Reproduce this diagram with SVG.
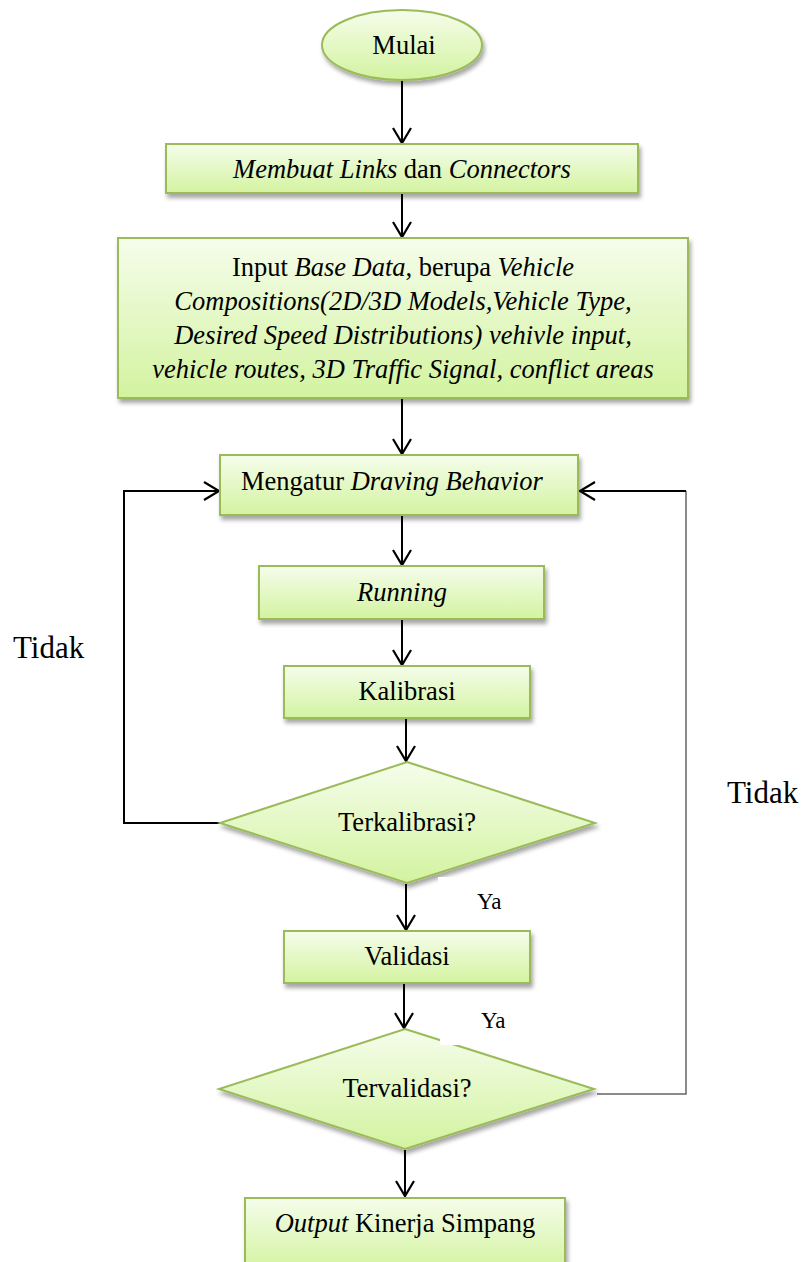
<svg xmlns="http://www.w3.org/2000/svg" width="808" height="1262" viewBox="0 0 808 1262">
<defs>
<linearGradient id="g" x1="0" y1="0" x2="0" y2="1">
<stop offset="0" stop-color="#f5fdeb"/>
<stop offset="1" stop-color="#d3f3a0"/>
</linearGradient>
<filter id="sh" x="-10%" y="-20%" width="125%" height="150%">
<feDropShadow dx="2" dy="4" stdDeviation="2" flood-color="#000" flood-opacity="0.35"/>
</filter>
<marker id="arr" markerUnits="userSpaceOnUse" markerWidth="24" markerHeight="24" refX="16" refY="10" orient="auto" viewBox="0 0 24 24">
<path d="M1,1 L16,10 L1,19" fill="none" stroke="#000" stroke-width="2.2"/>
</marker>
</defs>
<style>
.n{fill:url(#g);stroke:#9bbb59;stroke-width:2;filter:url(#sh)}
.t{font-family:"Liberation Serif","Times New Roman",serif;font-size:26.5px;fill:#000}
.c{text-anchor:middle}
.i{font-style:italic}
.e{fill:none;stroke:#000;stroke-width:2}
.gl{fill:none;stroke:#666;stroke-width:1.5}
</style>
<rect width="808" height="1262" fill="#fff"/>

<g id="connectors">
<line class="e" x1="402" y1="81" x2="402" y2="143" marker-end="url(#arr)"/>
<line class="e" x1="402" y1="194" x2="402" y2="237" marker-end="url(#arr)"/>
<line class="e" x1="402" y1="399" x2="402" y2="454" marker-end="url(#arr)"/>
<line class="e" x1="402" y1="516" x2="402" y2="565" marker-end="url(#arr)"/>
<line class="e" x1="402" y1="620" x2="402" y2="665" marker-end="url(#arr)"/>
<line class="e" x1="406" y1="719" x2="406" y2="761" marker-end="url(#arr)"/>
<line class="e" x1="406" y1="884" x2="406" y2="930" marker-end="url(#arr)"/>
<line class="e" x1="404" y1="984" x2="404" y2="1028" marker-end="url(#arr)"/>
<line class="e" x1="405" y1="1150" x2="405" y2="1196" marker-end="url(#arr)"/>
<polyline class="e" points="220,823 124,823 124,491 219,491" marker-end="url(#arr)"/>
<polyline class="gl" points="597,1094 686,1094 686,491"/>
<line class="e" x1="686" y1="491" x2="580" y2="491" marker-end="url(#arr)"/>
</g>

<g id="mulai">
<ellipse class="n" cx="402" cy="45" rx="80" ry="35"/>
<text class="t c" x="404" y="54">Mulai</text>
</g>

<g id="links">
<rect class="n" x="166" y="144" width="472" height="49"/>
<text class="t c" x="402" y="178"><tspan class="i">Membuat Links</tspan> dan <tspan class="i">Connectors</tspan></text>
</g>

<g id="input">
<rect class="n" x="118" y="238" width="570" height="160"/>
<text class="t c" x="403" y="276">Input <tspan class="i">Base Data</tspan>, berupa <tspan class="i">Vehicle</tspan></text>
<text class="t c i" x="403" y="310">Compositions(2D/3D Models,Vehicle Type,</text>
<text class="t c i" x="403" y="344">Desired Speed Distributions) vehivle input,</text>
<text class="t c i" x="403" y="378">vehicle routes, 3D Traffic Signal, conflict areas</text>
</g>

<g id="mengatur">
<rect class="n" x="220" y="455" width="358" height="60"/>
<text class="t" x="241" y="490">Mengatur <tspan class="i">Draving Behavior</tspan></text>
</g>

<g id="running">
<rect class="n" x="259" y="566" width="285" height="53"/>
<text class="t c i" x="402" y="601">Running</text>
</g>

<g id="kalibrasi">
<rect class="n" x="284" y="666" width="246" height="52"/>
<text class="t c" x="407" y="700">Kalibrasi</text>
</g>

<g id="terkalibrasi">
<polygon class="n" points="407,762 595,823 407,883 220,823"/>
<text class="t c" x="407" y="831">Terkalibrasi?</text>
</g>

<g id="validasi">
<rect class="n" x="284" y="931" width="246" height="52"/>
<text class="t c" x="407" y="965">Validasi</text>
</g>

<g id="tervalidasi">
<polygon class="n" points="405,1029 594,1089 405,1149 219,1089"/>
<text class="t c" x="407" y="1097">Tervalidasi?</text>
</g>

<g id="output">
<rect class="n" x="245" y="1198" width="320" height="72"/>
<text class="t c" x="405" y="1232"><tspan class="i">Output</tspan> Kinerja Simpang</text>
</g>

<g id="labels">
<rect x="438" y="877" width="80" height="42" fill="#fff"/>
<text class="t" x="477" y="909" style="font-size:23px">Ya</text>
<rect x="440" y="1000" width="80" height="45" fill="#fff"/>
<text class="t" x="481" y="1028" style="font-size:23px">Ya</text>
<text class="t" x="13" y="658" style="font-size:31px">Tidak</text>
<text class="t" x="727" y="803" style="font-size:31px">Tidak</text>
</g>
</svg>
